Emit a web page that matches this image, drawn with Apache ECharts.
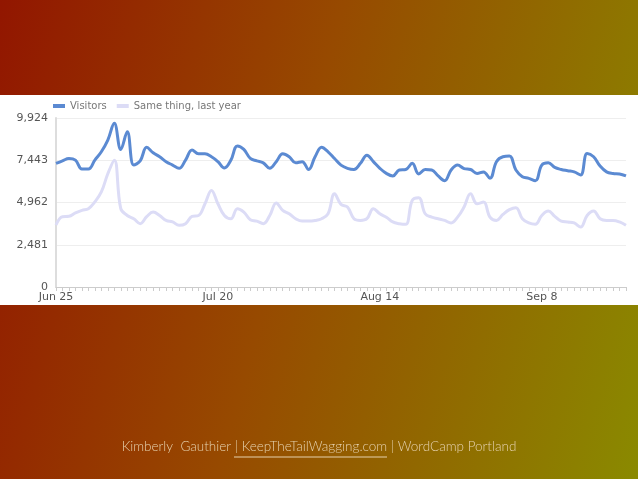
<!DOCTYPE html>
<html>
<head>
<meta charset="utf-8">
<script src="https://cdn.jsdelivr.net/npm/echarts@6/dist/echarts.min.js"></script>
<style>
html,body{margin:0;padding:0;}
body{width:638px;height:479px;background:linear-gradient(105deg,#921600 0%,#974a00 45%,#8a8a00 100%);}
#band{position:absolute;left:0;top:95px;width:638px;height:210px;background:#fff;}
#chart{position:absolute;left:0;top:0;width:638px;height:479px;}
</style>
</head>
<body>
<div id="band"></div>
<div id="chart"></div>
<script>
var startDate = new Date(2013, 5, 25);
var dayCount = 89;
var months = ['Jan','Feb','Mar','Apr','May','Jun','Jul','Aug','Sep','Oct','Nov','Dec'];
var categories = [];
for (var i = 0; i < dayCount; i++) {
    var d = new Date(startDate.getTime() + i * 86400000);
    categories.push(months[d.getMonth()] + ' ' + d.getDate());
}

var visitors = [7260,7410,7550,7450,6930,6930,7450,7940,8630,9610,8080,9120,7160,7410,8200,7880,7650,7360,7160,6970,
    7450,8040,7820,7820,7650,7360,6990,7450,8280,8080,7550,7410,7290,6970,7360,7820,7650,7290,7360,6900,
    7650,8200,7940,7550,7160,6970,6900,7260,7740,7360,6970,6670,6520,6870,6900,7260,6640,6900,6870,6520,
    6240,6870,7160,6950,6900,6670,6760,6380,7360,7650,7690,6870,6480,6380,6240,7160,7290,7020,6900,6830,
    6760,6580,7840,7650,7100,6760,6670,6640,6520];
var lastYear = [3640,4130,4150,4350,4500,4600,5000,5580,6650,7450,4600,4200,4010,3720,4130,4400,4200,3910,3820,3620,
    3720,4150,4200,4890,5670,4890,4200,4010,4600,4400,3950,3870,3720,4200,4930,4500,4300,4010,3870,3870,
    3910,4010,4300,5470,4850,4700,4010,3910,4010,4600,4300,4100,3820,3720,3680,5090,5240,4300,4100,4010,
    3910,3760,4100,4700,5470,4890,4990,4100,3910,4260,4540,4660,4010,3760,3680,4200,4460,4150,3870,3820,
    3760,3520,4200,4460,4010,3910,3910,3820,3620];
var yTicks = [0, 2481, 4962, 7443, 9924];

var chart = echarts.init(document.getElementById('chart'));
var option = {
    animation: false,
    legend: {
        left: 48, top: 96, itemWidth: 12, itemHeight: 4, itemGap: 10,
        icon: 'rect',
        textStyle: {color: '#777', fontSize: 10, fontFamily: 'DejaVu Sans'},
        data: ['Visitors', 'Same thing, last year']
    },
    grid: {left: 56, right: 12, top: 118, bottom: 192},
    xAxis: {
        type: 'category', data: categories, boundaryGap: false,
        axisLine: {lineStyle: {color: '#ccc'}},
        axisTick: {interval: 0, length: 4, lineStyle: {color: '#ccc'}},
        axisLabel: {
            interval: function (idx) { return idx % 25 === 0; },
            color: '#555', fontSize: 11, fontFamily: 'DejaVu Sans', margin: 5
        }
    },
    yAxis: {
        type: 'value', min: 0, max: yTicks[4], interval: yTicks[1],
        axisLine: {show: true, lineStyle: {color: '#ddd', width: 2}},
        splitLine: {lineStyle: {color: '#eee'}},
        axisLabel: {
            color: '#555', fontSize: 11, fontFamily: 'DejaVu Sans', margin: 8,
            formatter: function (v) { return v.toLocaleString('en-US'); }
        }
    },
    series: [
        {name: 'Visitors', type: 'line', data: visitors, smooth: 0.4, symbol: 'none',
            lineStyle: {color: '#5b8ad2', width: 3}, itemStyle: {color: '#5b8ad2'}, z: 3},
        {name: 'Same thing, last year', type: 'line', data: lastYear, smooth: 0.4, symbol: 'none',
            lineStyle: {color: '#dcdcf6', width: 3}, itemStyle: {color: '#dcdcf6'}, z: 2}
    ],
    graphic: [
        {type: 'text', left: 'center', top: 440, style: {
            text: 'Kimberly  Gauthier | KeepTheTailWagging.com | WordCamp Portland',
            fill: '#e6d2ae', font: '300 13.5px Lato'}},
        {type: 'line', shape: {x1: 234, y1: 457, x2: 387, y2: 457}, style: {stroke: '#e6d2ae', lineWidth: 1}}
    ]
};
chart.setOption(option);
</script>
</body>
</html>
